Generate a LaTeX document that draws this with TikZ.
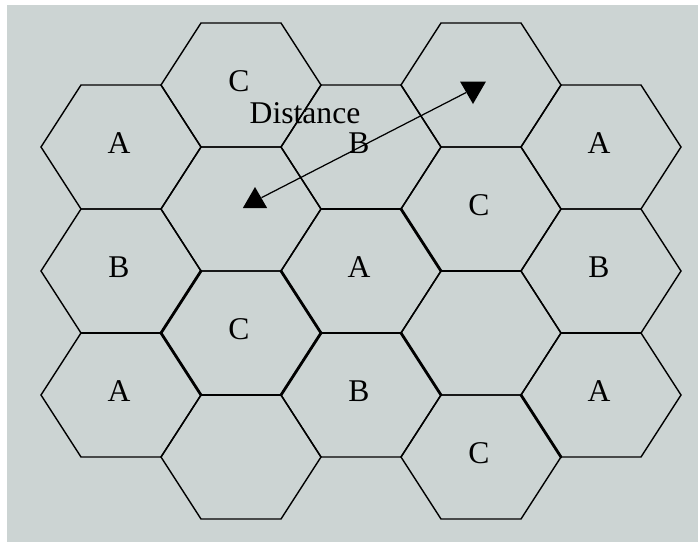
\documentclass[tikz,border=0pt]{standalone}
\usepackage{fontspec}
\setmainfont{Liberation Serif}
\usetikzlibrary{shapes.geometric}
\definecolor{panelgray}{RGB}{204,212,211}
\tikzset{
  cell/.style={draw=black, line width=0.8pt, line join=miter},
  border/.style={draw=black, line width=1.6pt, line cap=round},
  celllabel/.style={font=\fontsize{18}{21}\selectfont, inner sep=0pt},
  marker/.style={regular polygon, regular polygon sides=3, fill=black, inner sep=0pt},
  link/.style={draw=black, line width=0.7pt}
}

\begin{document}
\begin{tikzpicture}[x=0.02cm, y=-0.02cm]
% page and panel
\fill[white] (0,0) rectangle (698,542);
\fill[panelgray] (7,5) rectangle (698,542);
\useasboundingbox (0,0) rectangle (698,542);

% hexagon cells: column / half-row
\foreach \col/\k in {0/1,0/3,0/5, 1/0,1/2,1/4,1/6, 2/1,2/3,2/5, 3/0,3/2,3/4,3/6, 4/1,4/3,4/5}
  \draw[cell, shift={({121+120*\col},{85+62*\k})}]
    (-40,-62) -- (40,-62) -- (80,0) -- (40,62) -- (-40,62) -- (-80,0) -- cycle;

% heavier edges
\foreach \ax/\ay/\bx/\by in {321/209/401/209, 401/209/441/271, 441/271/521/271,
    321/333/401/333, 401/333/441/395, 561/333/641/333, 521/395/561/457,
    81/333/161/333, 161/333/201/395, 201/395/281/395, 281/395/321/333,
    281/271/321/333, 161/333/201/271}
  \draw[border] (\ax,\ay) -- (\bx,\by);

% cell letters
\foreach \col/\k/\txt in {0/1/A, 0/3/B, 0/5/A, 1/0/C, 1/4/C, 2/1/B, 2/3/A, 2/5/B,
    3/2/C, 3/6/C, 4/1/A, 4/3/B, 4/5/A}
  \node[celllabel] (l\col\k) at ({119+120*\col},{81+62*\k}) {\txt};

% distance between co-channel cells
\node[marker, minimum size=0.56cm] (near) at (255,201) {};
\node[marker, minimum size=0.6cm, shape border rotate=180] (far) at (473,89) {};
\draw[link] (near) -- (far);
\node[celllabel] (dist) at (305,113) {Distance};
\end{tikzpicture}
\end{document}
